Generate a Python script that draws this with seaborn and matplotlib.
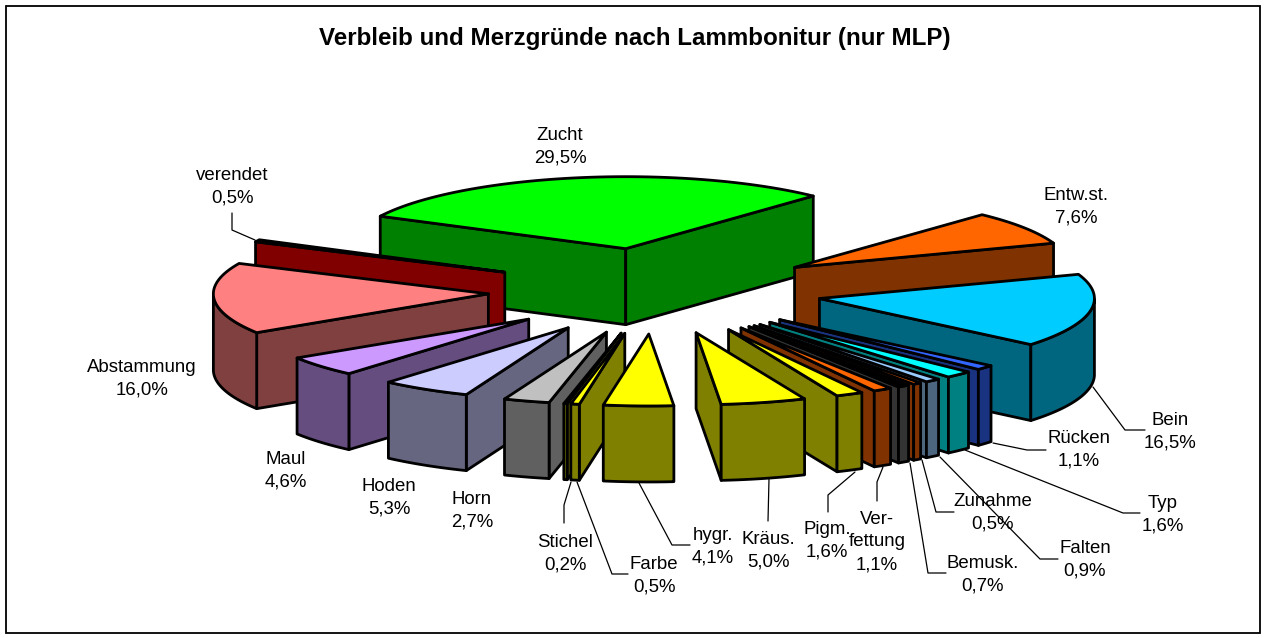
import numpy as np
import matplotlib.pyplot as plt
from matplotlib.patches import Polygon
import seaborn as sns

# slices clockwise, starting with Zucht
names = ["Zucht", "Entw.st.", "Bein", "Rücken", "Typ", "Falten", "Zunahme", "Bemusk.",
         "Ver-\nfettung", "Pigm.", "Kräus.", "hygr.", "Farbe", "Stichel", "Horn",
         "Hoden", "Maul", "Abstammung", "verendet"]
values = [29.5, 7.6, 16.5, 1.1, 1.6, 0.9, 0.5, 0.7, 1.1, 1.6, 5.0, 4.1, 0.5, 0.2, 2.7,
          5.3, 4.6, 16.0, 0.5]
tops = ["#00FF00", "#FF6600", "#00CCFF", "#3366FF", "#00FFFF", "#99CCFF", "#FF6600", "#000000",
        "#FF6600", "#FFFF00", "#FFFF00", "#FFFF00", "#FFFF00", "#FFFF00", "#C0C0C0",
        "#CCCCFF", "#CC99FF", "#FF8080", "#800000"]
walls = ["#008000", "#803300", "#006680", "#1A3380", "#008080", "#4D6680", "#803300", "#333333",
         "#803300", "#808000", "#808000", "#808000", "#808000", "#808000", "#606060",
         "#666680", "#664D80", "#804040", "#800000"]

# label centres in pixels, same order as names
label_x = [560, 1076, 1170, 1079, 1163, 1085, 993, 983, 877, 827, 768, 713, 654, 565, 472,
           389, 286, 142, 232]
label_y = [146, 206, 431, 449, 514, 559, 512, 574, 541, 540, 550, 546, 575, 553, 510,
           497, 470, 378, 186]

# leader lines in pixels
leaders = [
    [(232, 213), (232, 230), (255, 240)],
    [(1093, 387), (1125, 430), (1145, 430)],
    [(993, 443), (1027, 450), (1046, 450)],
    [(965, 450), (1123, 513), (1140, 513)],
    [(940, 457), (1040, 559), (1058, 559)],
    [(922, 460), (936, 512), (954, 512)],
    [(910, 463), (928, 573), (946, 573)],
    [(883, 467), (877, 482), (877, 501)],
    [(855, 472), (828, 495), (828, 512)],
    [(769, 479), (768, 521)],
    [(639, 483), (672, 545), (690, 545)],
    [(577, 482), (612, 574), (628, 574)],
    [(571, 482), (564, 505), (564, 523)],
]

start_angle = 153.2
cx, cy = 655, 291
rx, ry = 275, 72
ex, ey = 167, 43
depth = 76

sns.set_style("white")
plt.rcParams["font.family"] = ["Liberation Sans", "DejaVu Sans"]

fig = plt.figure(figsize=(12.65, 6.38), dpi=100)
ax = fig.add_axes([0, 0, 1, 1])
ax.set_xlim(0, 1265)
ax.set_ylim(638, 0)
ax.axis("off")
ax.add_patch(plt.Rectangle((5.5, 5.5), 1254, 627, fc="white", ec="black", lw=1.3, zorder=0))

step = 360 / sum(values)
ends = start_angle - np.cumsum(values) * step
starts = np.r_[start_angle, ends[:-1]]
mids = np.radians((starts + ends) / 2)
edge = dict(ec="black", lw=2.0, joinstyle="round")

# back slices first
for i in np.argsort(-np.sin(mids)):
    a0, a1 = np.radians(starts[i]), np.radians(ends[i])
    vx, vy = cx + ex * np.cos(mids[i]), cy - ey * np.sin(mids[i])
    t = np.linspace(a0, a1, 60)
    ax_, ay_ = vx + rx * np.cos(t), vy - ry * np.sin(t)

    # radial walls, only those facing the viewer
    for ang, side in ((a0, 1), (a1, -1)):
        px, py = vx + rx * np.cos(ang), vy - ry * np.sin(ang)
        if side * np.cos(ang) > 0:
            continue
        ax.add_patch(Polygon([(vx, vy), (px, py), (px, py + depth), (vx, vy + depth)],
                             fc=walls[i], **edge))
    # outer wall, front part of the rim
    front = np.sin(t) < 0
    if front.sum() > 1:
        xs, ys = ax_[front], ay_[front]
        ax.add_patch(Polygon(np.c_[np.r_[xs, xs[::-1]], np.r_[ys, ys[::-1] + depth]],
                             fc=walls[i], **edge))
    ax.add_patch(Polygon(np.c_[np.r_[vx, ax_], np.r_[vy, ay_]], fc=tops[i], **edge))

for pts in leaders:
    p = np.array(pts)
    ax.plot(p[:, 0], p[:, 1], color="black", lw=0.9, zorder=50)

for n, v, x, y in zip(names, values, label_x, label_y):
    txt = n + "\n" + f"{v:.1f}".replace(".", ",") + "%"
    ax.text(x, y + 1, txt, ha="center", va="center", fontsize=13.4, color="black",
            linespacing=1.45, zorder=60)

ax.text(634.5, 38, "Verbleib und Merzgründe nach Lammbonitur (nur MLP)", ha="center", va="center",
        fontsize=17.4, fontweight="bold", color="black", zorder=60)

fig.savefig("out.png", dpi=100, facecolor="white")
